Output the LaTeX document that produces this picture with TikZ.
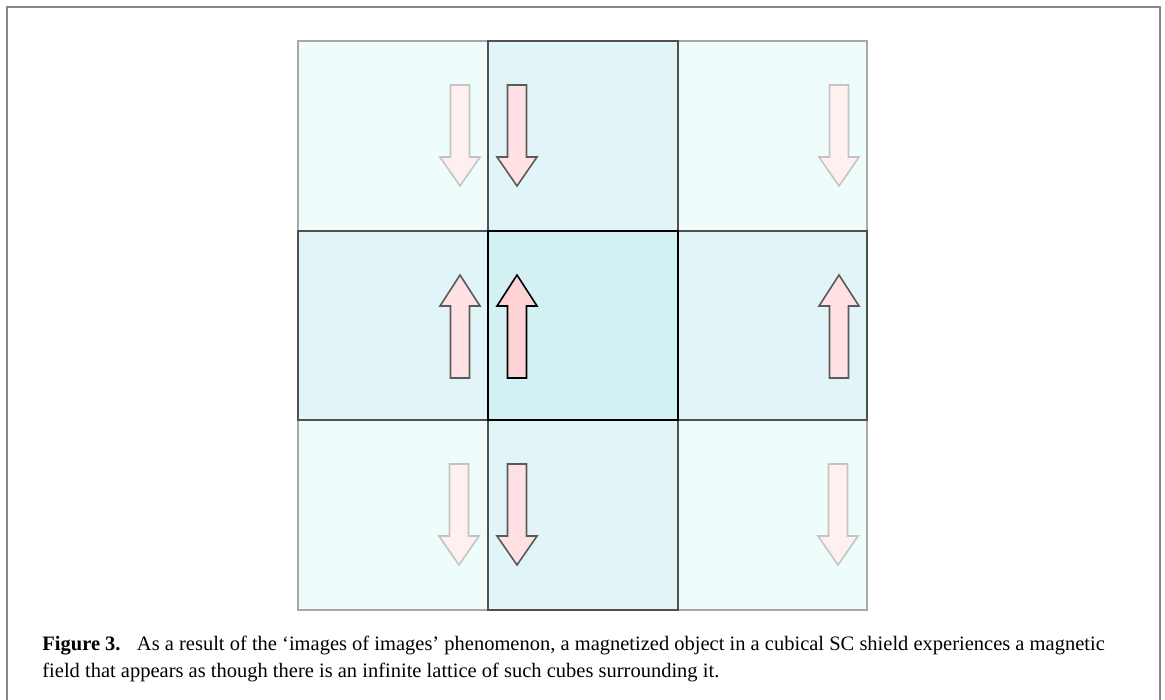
\documentclass[tikz,border=0pt]{standalone}
\usepackage{fontspec}
\setmainfont{Liberation Serif}
\begin{document}
\begin{tikzpicture}[x=0.5pt,y=-0.5pt,
  outercell/.style={fill=cOut,draw=cOutB,line width=1pt},
  crosscell/.style={fill=cCross,draw=cCrossB,line width=1pt},
  centercell/.style={fill=cCen,draw=black,line width=1pt},
  faintarr/.style={fill=aFaint,draw=aFaintB,line width=0.8pt,line join=miter},
  medarr/.style={fill=aMed,draw=aMedB,line width=0.8pt,line join=miter},
  strongarr/.style={fill=aStrong,draw=black,line width=0.8pt,line join=miter},
  captext/.style={anchor=base west,inner sep=0pt,font=\fontsize{10.25}{12}\selectfont}]
\definecolor{cOut}{HTML}{EFFCFC}
\definecolor{cOutB}{HTML}{A8A8A8}
\definecolor{cCross}{HTML}{E1F5F8}
\definecolor{cCrossB}{HTML}{505050}
\definecolor{cCen}{HTML}{D3F1F3}
\definecolor{aFaint}{HTML}{FFF0F0}
\definecolor{aFaintB}{HTML}{C4C4C4}
\definecolor{aMed}{HTML}{FFE1E3}
\definecolor{aMedB}{HTML}{5A5A5A}
\definecolor{aStrong}{HTML}{FFD3D5}
\def\myDn#1#2#3{\draw[#1] (#2-9.5,#3) -- (#2+9.5,#3) -- (#2+9.5,#3+72) -- (#2+20,#3+72) -- (#2,#3+101) -- (#2-20,#3+72) -- (#2-9.5,#3+72) -- cycle;}
\def\myUp#1#2#3{\draw[#1] (#2-9.5,#3) -- (#2+9.5,#3) -- (#2+9.5,#3-72) -- (#2+20,#3-72) -- (#2,#3-103) -- (#2-20,#3-72) -- (#2-9.5,#3-72) -- cycle;}
\useasboundingbox (0,0) rectangle (1165,700);
\fill[white] (0,0) rectangle (1165,700);
% frame
\draw[draw=gray!95,line width=1pt] (7,701) -- (7,7) -- (1160,7) -- (1160,701);
% outer cells
\draw[outercell] (298,41) rectangle (488,231);
\draw[outercell] (678,41) rectangle (867,231);
\draw[outercell] (298,420) rectangle (488,610);
\draw[outercell] (678,420) rectangle (867,610);
% cross cells
\draw[crosscell] (488,41) rectangle (678,231);
\draw[crosscell] (488,420) rectangle (678,610);
\draw[crosscell] (298,231) rectangle (488,420);
\draw[crosscell] (678,231) rectangle (867,420);
% center
\draw[centercell] (488,231) rectangle (678,420);
% arrows top row
\myDn{faintarr}{460}{85}
\myDn{medarr}{517}{85}
\myDn{faintarr}{839}{85}
% middle row
\myUp{medarr}{460}{378}
\myUp{strongarr}{517}{378}
\myUp{medarr}{839}{378}
% bottom row
\myDn{faintarr}{459}{464}
\myDn{medarr}{517}{464}
\myDn{faintarr}{838}{464}
% caption
\node[captext] (cap1) at (42,650) {\textbf{Figure 3.}\hspace{0.8em}As a result of the ‘images of images’ phenomenon, a magnetized object in a cubical SC shield experiences a magnetic};
\node[captext] (cap2) at (42,677) {field that appears as though there is an infinite lattice of such cubes surrounding it.};
\end{tikzpicture}
\end{document}
